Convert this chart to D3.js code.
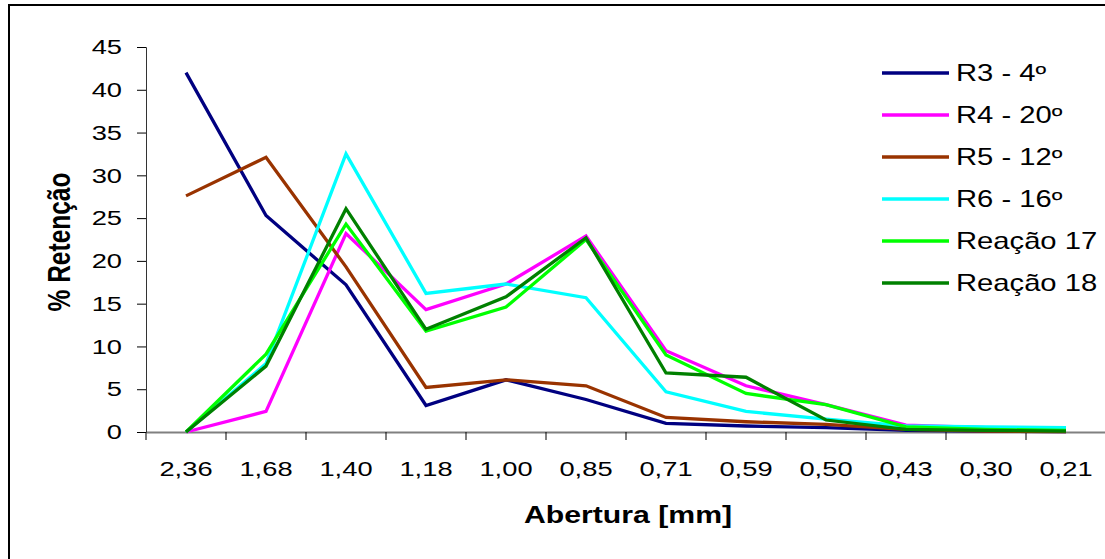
<!DOCTYPE html>
<html>
<head>
<meta charset="utf-8">
<script src="https://cdn.jsdelivr.net/npm/d3@7"></script>
<style>
  body { margin: 0; background: #fff; }
  text { font-family: Arial, "Liberation Sans", sans-serif; }
</style>
</head>
<body>
<div id="chart"></div>
<script>

// Aberturas (mm)
let categories = ["2,36", "1,68", "1,40", "1,18", "1,00", "0,85", "0,71", "0,59", "0,50", "0,43", "0,30", "0,21"];

let seriesNames = ["R3 - 4º", "R4 - 20º", "R5 - 12º", "R6 - 16º", "Reação 17", "Reação 18"];
let seriesColors = ["#000080", "#FF00FF", "#993300", "#00FFFF", "#00FF00", "#008000"];

let r3 = [42.0, 25.3, 17.2, 3.1, 6.1, 3.8, 1.0, 0.7, 0.5, 0.2, 0.1, 0.05];
let r4 = [0, 2.4, 23.2, 14.3, 17.3, 22.9, 9.5, 5.4, 3.2, 0.8, 0.5, 0.4];
let r5 = [27.6, 32.1, 19.3, 5.2, 6.1, 5.4, 1.7, 1.2, 0.9, 0.3, 0.1, 0.05];
let r6 = [0, 8.0, 32.5, 16.2, 17.3, 15.7, 4.7, 2.4, 1.5, 0.7, 0.6, 0.5];
let r17 = [0, 9.1, 24.3, 11.8, 14.6, 22.5, 9.0, 4.5, 3.2, 0.6, 0.3, 0.2];
let r18 = [0, 7.7, 26.1, 12.0, 15.8, 22.7, 6.9, 6.4, 1.4, 0.3, 0.2, 0.1];

let yTicks = [0, 5, 10, 15, 20, 25, 30, 35, 40, 45];

let allSeries = [r3, r4, r5, r6, r17, r18];

let width = 1105, height = 559;
let margin = {top: 47, left: 146, right: -1, bottom: 127};

// texto do original vem esticado na horizontal
let sx = 1.3;

let svg = d3.select("#chart").append("svg")
    .attr("width", width)
    .attr("height", height);

// moldura externa
svg.append("rect")
    .attr("x", 9).attr("y", 5)
    .attr("width", width + 20).attr("height", height + 20)
    .attr("fill", "none")
    .attr("stroke", "#000")
    .attr("stroke-width", 2);

let x = d3.scaleBand()
    .domain(categories)
    .range([margin.left, width - margin.right]);

let y = d3.scaleLinear()
    .domain([0, 45])
    .range([height - margin.bottom, margin.top]);

// eixo x
let xAxis = svg.append("g")
    .attr("transform", "translate(0," + y(0) + ")")
    .call(d3.axisBottom(x).tickSize(0).tickPadding(29));
xAxis.select(".domain").attr("stroke", "#808080").attr("stroke-width", 2);
xAxis.selectAll("text")
    .attr("font-size", 21)
    .attr("fill", "#000")
    .attr("transform", "scale(" + sx + ",1)");

// ticks entre categorias
let bounds = categories.map(c => x(c)).concat([x(categories[categories.length - 1]) + x.bandwidth()]);
xAxis.selectAll(".sep").data(bounds).enter().append("line")
    .attr("class", "sep")
    .attr("x1", d => d).attr("x2", d => d)
    .attr("y1", 0).attr("y2", 8)
    .attr("stroke", "#000");

// eixo y
let yAxis = svg.append("g")
    .attr("transform", "translate(" + margin.left + ",0)")
    .call(d3.axisLeft(y).tickValues(yTicks).tickSize(9));
yAxis.select(".domain").attr("stroke", "#333");
yAxis.selectAll(".tick line").attr("stroke", "#000");
yAxis.selectAll("text")
    .attr("font-size", 21)
    .attr("fill", "#000")
    .attr("x", -24 / sx)
    .attr("transform", "scale(" + sx + ",1)");

// titulos
svg.append("text")
    .attr("transform", "translate(628,523) scale(1.26,1)")
    .attr("text-anchor", "middle")
    .attr("font-size", 24)
    .attr("font-weight", "bold")
    .text("Abertura [mm]");

svg.append("text")
    .attr("transform", "translate(70,242) rotate(-90) scale(1,1.25)")
    .attr("text-anchor", "middle")
    .attr("font-size", 24.5)
    .attr("font-weight", "bold")
    .text("% Retenção");

// linhas
let line = d3.line()
    .x((d, i) => x(categories[i]) + x.bandwidth() / 2)
    .y(d => y(d));

allSeries.forEach(function (s, i) {
    svg.append("path")
        .attr("d", line(s))
        .attr("fill", "none")
        .attr("stroke", seriesColors[i])
        .attr("stroke-width", 3.3)
        .attr("stroke-linejoin", "miter");
});

// legenda
let legend = svg.append("g");
seriesNames.forEach(function (name, i) {
    let ly = 73 + i * 42;
    legend.append("line")
        .attr("x1", 882).attr("x2", 949)
        .attr("y1", ly).attr("y2", ly)
        .attr("stroke", seriesColors[i])
        .attr("stroke-width", 3.3);
    legend.append("text")
        .attr("transform", "translate(956," + (ly + 7.5) + ") scale(1.27,1)")
        .attr("font-size", 23)
        .text(name);
});

</script>
</body>
</html>
